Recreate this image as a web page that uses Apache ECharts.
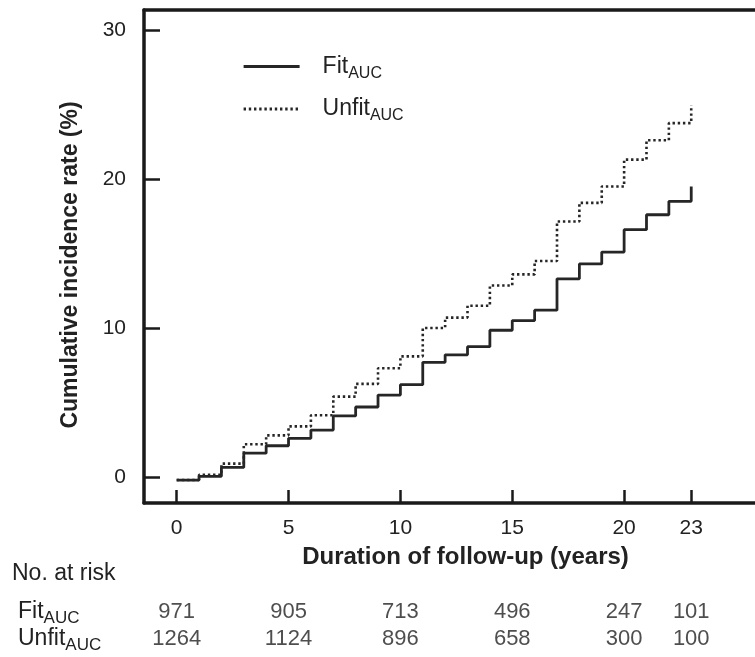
<!DOCTYPE html>
<html>
<head>
<meta charset="utf-8">
<script src="https://cdn.jsdelivr.net/npm/echarts@6/dist/echarts.min.js"></script>
<style>
html, body { margin: 0; padding: 0; background: #fff; }
#chart { width: 755px; height: 657px; }
</style>
</head>
<body>
<div id="chart"></div>
<script>
// cumulative incidence (%) per follow-up year
var years = [0, 1, 2, 3, 4, 5, 6, 7, 8, 9, 10, 11, 12, 13, 14, 15, 16, 17, 18, 19, 20, 21, 22, 23];
var fitRate = [-0.2, 0.05, 0.65, 1.6, 2.1, 2.6, 3.15, 4.1, 4.7, 5.5, 6.2, 7.7, 8.2, 8.75, 9.85, 10.5, 11.2, 13.3, 14.3, 15.1, 16.6, 17.6, 18.5, 19.5];
var unfitRate = [-0.2, 0.15, 0.9, 2.2, 2.8, 3.4, 4.15, 5.4, 6.25, 7.3, 8.1, 10.0, 10.7, 11.5, 12.85, 13.6, 14.5, 17.15, 18.4, 19.5, 21.3, 22.6, 23.75, 24.95];

var tickYears = [0, 5, 10, 15, 20, 23];
var rateTicks = [0, 10, 20, 30];

// number at risk table
var groups = ['Fit', 'Unfit'];
var fitAtRisk = [971, 905, 713, 496, 247, 101];
var unfitAtRisk = [1264, 1124, 896, 658, 300, 100];

var FONT = "'Liberation Sans', Arial, Helvetica, sans-serif";
var INK = '#222';
var xMin = -1.46, xMax = 25.85;

function pairs(xs, ys) {
    var out = [];
    for (var i = 0; i < xs.length; i++) {
        out.push([xs[i], ys[i]]);
    }
    return out;
}

var riskData = [];
for (var i = 0; i < tickYears.length; i++) {
    riskData.push([tickYears[i], 'Fit', fitAtRisk[i]]);
    riskData.push([tickYears[i], 'Unfit', unfitAtRisk[i]]);
}

function subRich(big, small, drop) {
    return {
        n: { fontFamily: FONT, fontSize: big, color: INK },
        s: { fontFamily: FONT, fontSize: small, color: INK, padding: [drop, 0, 0, 0] }
    };
}

var chart = echarts.init(document.getElementById('chart'), null, { renderer: 'canvas' });
var option = {
    animation: false,
    backgroundColor: '#fff',
    grid: [
        { left: 144, right: 0, top: 10, bottom: 154 },
        { left: 144, right: 0, top: 598, height: 54 }
    ],
    legend: {
        orient: 'vertical',
        left: 237,
        top: 50,
        itemWidth: 56,
        itemHeight: 14,
        itemGap: 16,
        data: groups,
        selectedMode: false,
        itemStyle: { opacity: 0 },
        lineStyle: { width: 3.2 },
        formatter: function (name) {
            return '{n|' + name + '}{s|AUC}';
        },
        textStyle: {
            padding: [0, 0, 0, 18],
            rich: subRich(23, 16, 14)
        }
    },
    xAxis: [
        {
            type: 'value', gridIndex: 0, min: xMin, max: xMax,
            name: 'Duration of follow-up (years)',
            nameLocation: 'middle',
            nameGap: 42,
            nameTextStyle: { fontFamily: FONT, fontSize: 24, fontWeight: 'bold', color: INK, padding: [0, 0, 0, 32] },
            axisLine: { onZero: false, lineStyle: { color: '#1a1a1a', width: 3.5 } },
            axisTick: { inside: true, length: 13, customValues: tickYears, lineStyle: { color: '#1a1a1a', width: 2.5 } },
            axisLabel: { customValues: tickYears, margin: 15, fontFamily: FONT, fontSize: 21, color: INK },
            splitLine: { show: false }
        },
        {
            type: 'value', gridIndex: 0, min: xMin, max: xMax, position: 'top',
            axisLine: { onZero: false, lineStyle: { color: '#1a1a1a', width: 3.5 } },
            axisTick: { show: false },
            axisLabel: { show: false },
            splitLine: { show: false }
        },
        {
            type: 'value', gridIndex: 1, min: xMin, max: xMax, show: false
        }
    ],
    yAxis: [
        {
            type: 'value', gridIndex: 0, min: -1.74, max: 31.34,
            name: 'Cumulative incidence rate (%)',
            nameLocation: 'middle',
            nameGap: 62,
            nameTextStyle: { fontFamily: FONT, fontSize: 23, fontWeight: 'bold', color: INK, padding: [0, 17, 0, 0] },
            axisLine: { onZero: false, lineStyle: { color: '#1a1a1a', width: 3.5 } },
            axisTick: { inside: true, length: 16, customValues: rateTicks, lineStyle: { color: '#1a1a1a', width: 2.5 } },
            axisLabel: { customValues: rateTicks, margin: 18, fontFamily: FONT, fontSize: 21, color: INK },
            splitLine: { show: false }
        },
        {
            type: 'category', gridIndex: 1, data: groups, inverse: true,
            axisLine: { show: false },
            axisTick: { show: false },
            axisLabel: {
                interval: 0,
                hideOverlap: false,
                margin: 126,
                align: 'left',
                formatter: function (v) {
                    return '{n|' + v + '}{s|AUC}';
                },
                rich: subRich(23, 17, 14)
            }
        }
    ],
    graphic: [
        {
            type: 'text', left: 12, top: 562,
            style: { text: 'No. at risk', fontFamily: FONT, fontSize: 23, fill: INK }
        }
    ],
    series: [
        {
            name: 'Fit', type: 'line', step: 'end', xAxisIndex: 0, yAxisIndex: 0,
            data: pairs(years, fitRate),
            symbol: 'none',
            lineStyle: { color: '#262626', width: 2.8, type: 'solid' },
            itemStyle: { color: '#262626' },
            silent: true
        },
        {
            name: 'Unfit', type: 'line', step: 'end', xAxisIndex: 0, yAxisIndex: 0,
            data: pairs(years, unfitRate),
            symbol: 'none',
            lineStyle: { color: '#262626', width: 2.6, type: [2.4, 2.8] },
            itemStyle: { color: '#262626' },
            silent: true
        },
        {
            name: 'atRisk', type: 'scatter', xAxisIndex: 2, yAxisIndex: 1,
            data: riskData,
            symbolSize: 0.1,
            itemStyle: { color: 'rgba(0,0,0,0)' },
            silent: true,
            label: {
                show: true,
                position: 'inside',
                fontFamily: FONT,
                fontSize: 22,
                color: INK,
                formatter: function (p) {
                    return p.value[2];
                }
            }
        }
    ]
};
chart.setOption(option);
window.addEventListener('resize', function () {
    chart.resize();
});
</script>
</body>
</html>
